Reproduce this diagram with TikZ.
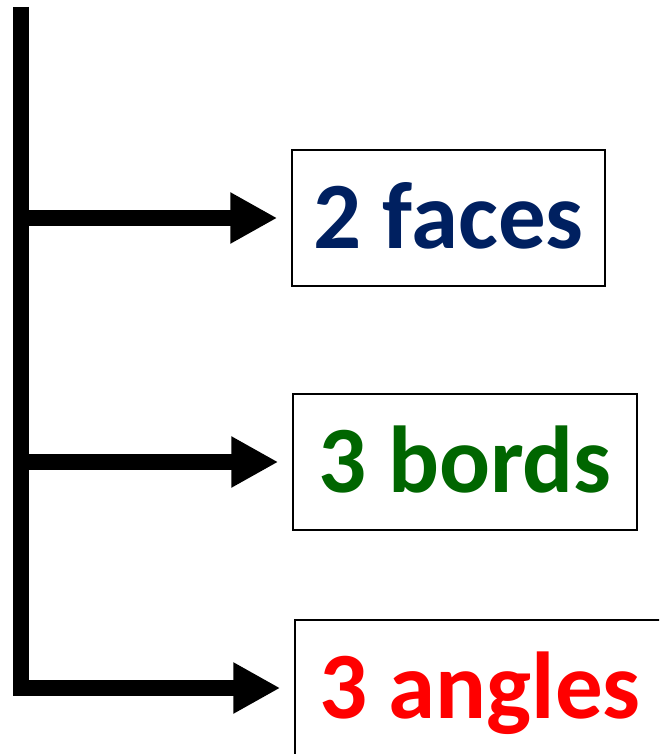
\documentclass[tikz,border=0pt]{standalone}
\usepackage{fontspec}
\setmainfont{Carlito}
\usepackage{tikz}
\usetikzlibrary{arrows.meta,positioning}
\definecolor{navy}{RGB}{0,32,96}
\definecolor{darkgreen}{RGB}{0,102,0}
\definecolor{brightred}{RGB}{255,0,0}
\tikzset{
	term/.style={draw=black, line width=1.5pt, minimum height=136pt, inner sep=0pt,
		text height=61pt, text depth=0pt, font=\fontsize{95}{110}\selectfont\bfseries},
	branch/.style={line width=15.5pt, shorten >=14pt, -{Triangle[length=47pt,width=48pt]}}
}

\begin{document}
\begin{tikzpicture}[x=1pt,y=1pt]
			\useasboundingbox (0,0) rectangle (659,-754);
			\clip (0,0) rectangle (659,-754);
			\node[term, minimum width=313pt, text=navy] (faces) at (448.5,-218) {2 faces};
			\node[term, minimum width=344pt, text=darkgreen] (bords) at (465,-462) {3 bords};
			\node[term, minimum width=370pt, text=brightred] (angles) at (480,-688) {3 angles};
			\coordinate (top) at (21,-7);
			\draw[branch] (top) -- (top |- angles.west) -- (angles.west);
			\draw[branch] (top |- faces.west) -- (faces.west);
			\draw[branch] (top |- bords.west) -- (bords.west);
		\end{tikzpicture}
\end{document}
